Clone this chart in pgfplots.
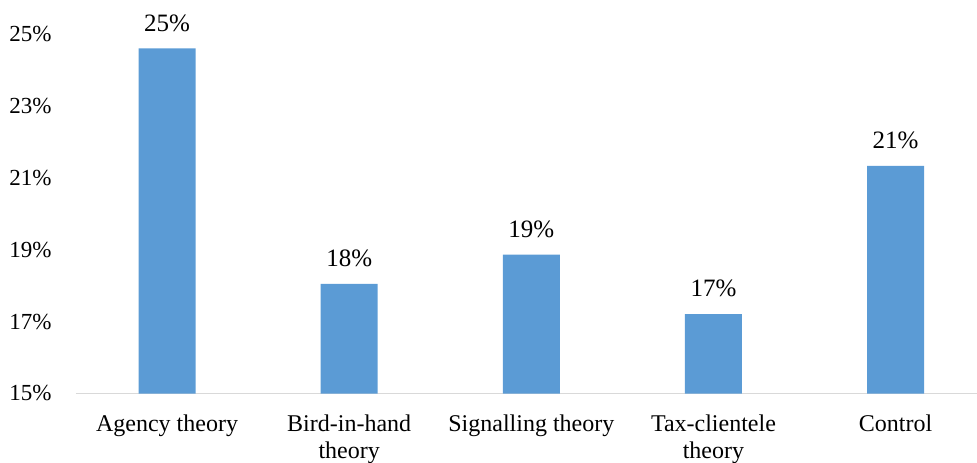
\documentclass[border=0pt]{standalone}
\usepackage{fontspec}
\setmainfont{Liberation Serif}
\usepackage{pgfplots}
\pgfplotsset{compat=1.18}
\definecolor{barblue}{HTML}{5B9BD5}
\definecolor{axisgray}{HTML}{D9D9D9}
\begin{document}
\begin{tikzpicture}
\begin{axis}[
  /pgf/number format/assume math mode=true,
  scale only axis,
  width=450.5pt, height=179.75pt,
  xmin=-0.5, xmax=4.447,
  ymin=15, ymax=25,
  axis lines*=left,
  x axis line style={draw=axisgray, line width=0.75pt},
  y axis line style={draw=none},
  major tick length=0pt,
  xtick={0,1,2,3,4},
  xticklabels={Agency theory, Bird-in-hand\\theory, Signalling theory, Tax-clientele\\theory, Control},
  xticklabel style={anchor=north, inner sep=0pt, yshift=-10.5pt, align=center,
    font=\fontsize{12}{13.5}\selectfont},
  ytick={15,17,19,21,23,25},
  yticklabels={15\%,17\%,19\%,21\%,23\%,25\%},
  yticklabel style={anchor=east, inner sep=0pt, xshift=-12pt,
    font=\fontsize{11.5}{13}\selectfont},
  clip=false,
  nodes near coords={\pgfmathprintnumber[fixed,precision=0]{\pgfplotspointmeta}\%},
  every node near coord/.append style={anchor=south, inner sep=0pt, yshift=8.2pt,
    font=\fontsize{12.5}{14}\selectfont, text=black},
]
\addplot[ybar, bar width=28.5pt, fill=barblue, draw=none] coordinates {
  (0,24.60) (1,18.05) (2,18.86) (3,17.21) (4,21.33)
};
\end{axis}
\pgfresetboundingbox
\path ([shift={(-38pt,-34.25pt)}]current axis.south west)
  rectangle ([shift={(0pt,17pt)}]current axis.north east);
\end{tikzpicture}
\end{document}
